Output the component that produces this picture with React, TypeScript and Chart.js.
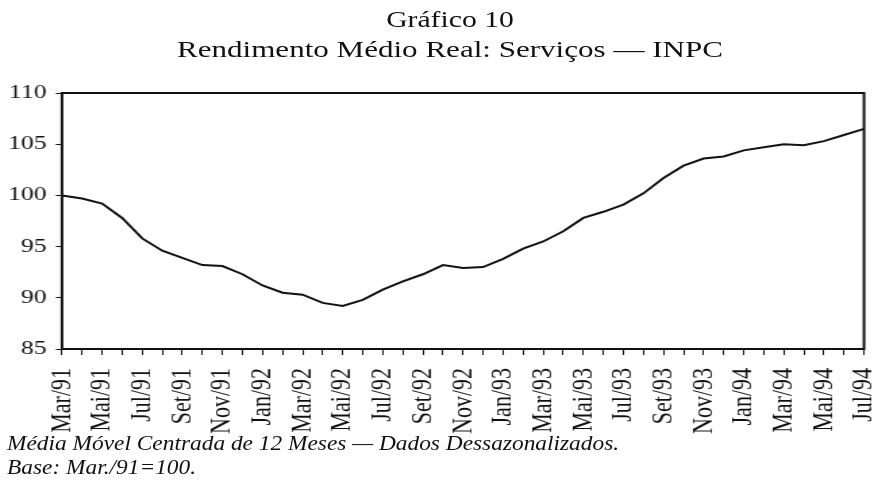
import React, { useEffect, useRef } from "react";
import { Chart, registerables } from "chart.js";

Chart.register(...registerables);

const months: string[] = [
  "Mar/91", "Abr/91", "Mai/91", "Jun/91", "Jul/91", "Ago/91", "Set/91", "Out/91", "Nov/91", "Dez/91",
  "Jan/92", "Fev/92", "Mar/92", "Abr/92", "Mai/92", "Jun/92", "Jul/92", "Ago/92", "Set/92", "Out/92", "Nov/92", "Dez/92",
  "Jan/93", "Fev/93", "Mar/93", "Abr/93", "Mai/93", "Jun/93", "Jul/93", "Ago/93", "Set/93", "Out/93", "Nov/93", "Dez/93",
  "Jan/94", "Fev/94", "Mar/94", "Abr/94", "Mai/94", "Jun/94", "Jul/94",
];

const rendimento: number[] = [
  100.0, 99.7, 99.2, 97.8, 95.8, 94.6, 93.9, 93.2, 93.1, 92.3,
  91.2, 90.5, 90.3, 89.5, 89.2, 89.8, 90.8, 91.6, 92.3, 93.2, 92.9, 93.0,
  93.8, 94.8, 95.5, 96.5, 97.8, 98.4, 99.1, 100.2, 101.7, 102.9, 103.6, 103.8,
  104.4, 104.7, 105.0, 104.9, 105.3, 105.9, 106.5,
];

const yTicks: number[] = [85, 90, 95, 100, 105, 110];

const titleLines: string[] = ["Gráfico 10", "Rendimento Médio Real: Serviços — INPC"];
const noteLines: string[] = [
  "Média Móvel Centrada de 12 Meses — Dados Dessazonalizados.",
  "Base: Mar./91=100.",
];

const FONT = "'Liberation Serif', 'Times New Roman', Times, serif";
const CANVAS_W = 647;
const SX = 874 / CANVAS_W;

const boxPlugin = {
  id: "plotBox",
  afterDraw(chart: any) {
    const { ctx, chartArea: a } = chart;
    ctx.save();
    ctx.strokeStyle = "#111";
    ctx.lineWidth = 2;
    ctx.strokeRect(a.left, a.top, a.right - a.left, a.bottom - a.top);
    ctx.restore();
  },
};

export default function App() {
  const ref = useRef<HTMLCanvasElement | null>(null);

  useEffect(() => {
    if (!ref.current) return;
    const chart = new Chart(ref.current, {
      type: "line",
      data: {
        labels: months,
        datasets: [
          {
            data: rendimento,
            borderColor: "#111",
            borderWidth: 2,
            pointRadius: 0,
            tension: 0,
            fill: false,
          },
        ],
      },
      options: {
        responsive: false,
        animation: false,
        layout: { padding: { top: 93, right: CANVAS_W - 864 / SX, bottom: 0, left: 0 } },
        plugins: {
          legend: { display: false },
          tooltip: { enabled: false },
          title: { display: false },
        },
        scales: {
          x: {
            type: "category",
            offset: false,
            border: { display: false },
            grid: { drawOnChartArea: false, drawTicks: true, tickLength: 6, color: "#111", lineWidth: 1 },
            ticks: {
              autoSkip: false,
              maxRotation: 90,
              minRotation: 90,
              padding: 13,
              color: "#111",
              font: { family: FONT, size: 22 },
              callback: (_v: any, i: number) => (i % 2 === 0 ? months[i] : ""),
            },
            afterFit: (s: any) => {
              s.height = 484 - 349;
              s.paddingLeft = 0;
              s.paddingRight = 0;
            },
          },
          y: {
            min: yTicks[0],
            max: yTicks[yTicks.length - 1],
            border: { display: false },
            grid: { drawOnChartArea: false, tickLength: 4.5, color: "#111", lineWidth: 1 },
            ticks: {
              stepSize: 5,
              padding: 7,
              color: "#111",
              font: { family: FONT, size: 19 },
            },
            afterFit: (s: any) => {
              s.width = 62 / SX;
              s.paddingTop = 0;
              s.paddingBottom = 0;
            },
          },
        },
      },
      plugins: [boxPlugin],
    } as any);
    return () => chart.destroy();
  }, []);

  const txt: React.CSSProperties = {
    position: "absolute",
    whiteSpace: "nowrap",
    color: "#111",
    fontFamily: FONT,
    margin: 0,
  };

  return (
    <div
      style={{
        position: "fixed",
        left: 0,
        top: 0,
        width: 874,
        height: 484,
        background: "#fff",
        overflow: "hidden",
      }}
    >
      <canvas
        ref={ref}
        width={CANVAS_W}
        height={484}
        style={{ position: "absolute", left: 0, top: 0, width: "874px", height: "484px" }}
      />
      <div
        style={{
          ...txt,
          left: 0,
          top: 5.2,
          width: 900,
          textAlign: "center",
          fontSize: 23,
          lineHeight: "30px",
          transform: "scaleX(1.29)",
          transformOrigin: "450px 0",
        }}
      >
        {titleLines[0]}
      </div>
      <div
        style={{
          ...txt,
          left: 0,
          top: 35.2,
          width: 900,
          textAlign: "center",
          fontSize: 23,
          lineHeight: "30px",
          transform: "scaleX(1.35)",
          transformOrigin: "450px 0",
        }}
      >
        {titleLines[1]}
      </div>
      {noteLines.map((t, i) => (
        <div
          key={i}
          style={{
            ...txt,
            left: 7,
            top: 431.1 + i * 24,
            fontSize: 20.5,
            lineHeight: "24px",
            fontStyle: "italic",
            transform: "scaleX(1.14)",
            transformOrigin: "0 0",
          }}
        >
          {t}
        </div>
      ))}
    </div>
  );
}
